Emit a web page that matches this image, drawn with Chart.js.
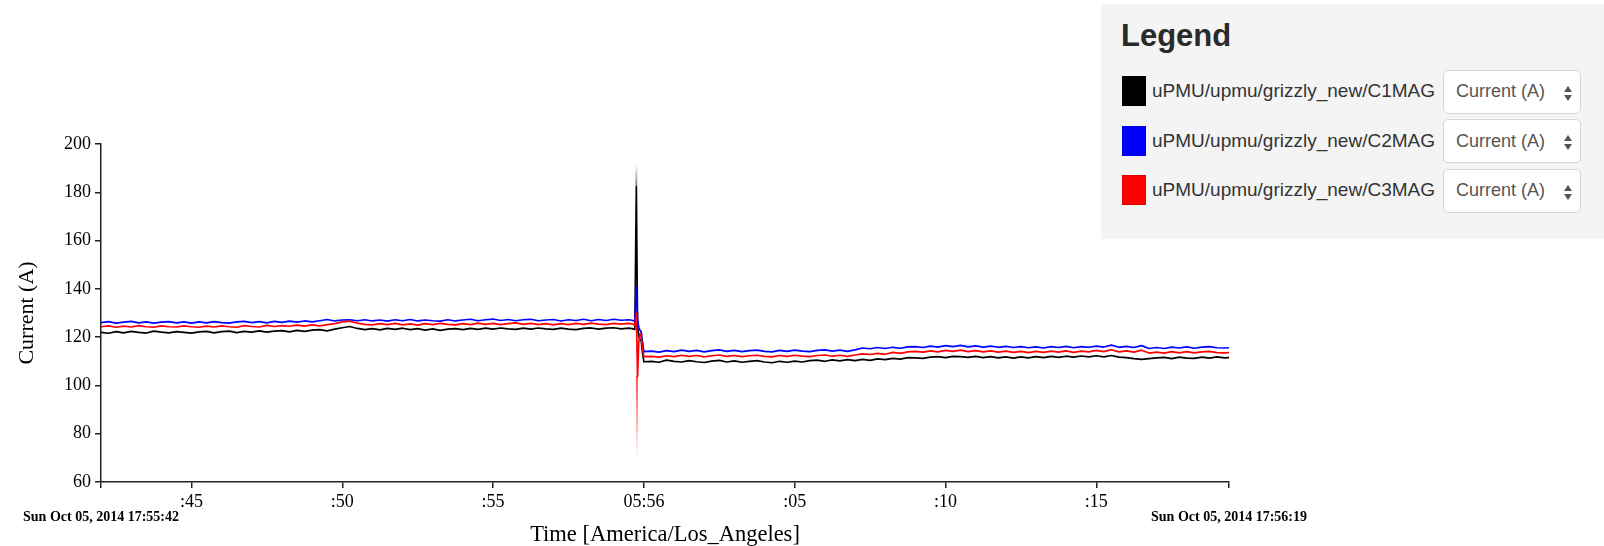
<!DOCTYPE html>
<html><head><meta charset="utf-8">
<script src="https://cdn.jsdelivr.net/npm/chart.js@4.4.1/dist/chart.umd.min.js"></script>
<style>
html,body{margin:0;padding:0;background:#fff;}
#wrap{position:relative;width:1604px;height:546px;overflow:hidden;}
#chart{position:absolute;left:0;top:0;}
#legend{position:absolute;left:1101px;top:4px;width:503px;height:235px;background:#f4f4f4;font-family:'Liberation Sans',Arial,sans-serif;color:#333;}
#legend .title{position:absolute;left:20px;top:16px;font-size:31px;font-weight:bold;line-height:31px;white-space:nowrap;color:#2a2a2a;}
.row{position:absolute;left:21px;height:30px;display:flex;align-items:center;}
.sw{width:24px;height:30px;box-sizing:border-box;border:1px solid rgba(0,0,0,0.12);}
.lbl{margin-left:6px;font-size:19px;white-space:nowrap;color:#333;}
.sel{position:absolute;left:342px;width:138px;height:44px;box-sizing:border-box;background:#fff;border:1px solid #d4d4d4;border-radius:5px;font-size:18px;color:#555;display:flex;align-items:center;padding-left:12px;white-space:nowrap;}
.up{position:absolute;left:120px;top:15px;width:0;height:0;border-left:4.5px solid transparent;border-right:4.5px solid transparent;border-bottom:6px solid #555;}
.dn{position:absolute;left:120px;top:24px;width:0;height:0;border-left:4.5px solid transparent;border-right:4.5px solid transparent;border-top:6px solid #555;}
</style>
</head><body>
<div id="wrap">
<canvas id="chart" width="1604" height="546"></canvas>
<div id="legend"><div class="title">Legend</div></div>
</div>
<script>
// ---- data ----
const seriesNames = ['uPMU/upmu/grizzly_new/C1MAG','uPMU/upmu/grizzly_new/C2MAG','uPMU/upmu/grizzly_new/C3MAG'];
const seriesColors = ['#000000','#0000ff','#ff0000'];
const unitLabel = 'Current (A)';
const yTitle = 'Current (A)';
const xTitle = 'Time [America/Los_Angeles]';
const rangeLabels = ['Sun Oct 05, 2014 17:55:42','Sun Oct 05, 2014 17:56:19'];
const xMin = 42, xMax = 79.4;           // seconds after 17:55:00
const xTickValues = [42, 45, 50, 55, 60, 65, 70, 75, 79.4];
const xTickLabels = ['', ':45', ':50', ':55', '05:56', ':05', ':10', ':15', ''];
const yMin = 60, yMax = 200, yStep = 20;

// sample times (seconds after 17:55:00)
const times = [
42,42.25,42.5,42.75,43,43.25,43.5,43.75,44,44.25,44.5,44.75,
45,45.25,45.5,45.75,46,46.25,46.5,46.75,47,47.25,47.5,47.75,
48,48.25,48.5,48.75,49,49.25,49.5,49.75,50,50.25,50.5,50.75,
51,51.25,51.5,51.75,52,52.25,52.5,52.75,53,53.25,53.5,53.75,
54,54.25,54.5,54.75,55,55.25,55.5,55.75,56,56.25,56.5,56.75,
57,57.25,57.5,57.75,58,58.25,58.5,58.75,59,59.25,59.5,
59.6,59.7,59.75,59.79,59.83,59.87,59.91,59.95,60,
60.25,60.5,60.75,61,61.25,61.5,61.75,62,62.25,62.5,62.75,63,
63.25,63.5,63.75,64,64.25,64.5,64.75,65,65.25,65.5,65.75,66,
66.25,66.5,66.75,67,67.25,67.5,67.75,68,68.25,68.5,68.75,69,
69.25,69.5,69.75,70,70.25,70.5,70.75,71,71.25,71.5,71.75,72,
72.25,72.5,72.75,73,73.25,73.5,73.75,74,74.25,74.5,74.75,75,
75.25,75.5,75.75,76,76.25,76.5,76.75,77,77.25,77.5,77.75,78,
78.25,78.5,78.75,79,79.25,79.4
];

const c1MAG = [
122.0,121.6,122.3,121.8,122.4,122.0,121.7,122.5,122.1,121.8,122.3,122.0,
121.7,122.2,122.4,121.8,122.3,122.5,121.9,122.4,122.1,122.6,122.1,122.5,
122.7,122.2,122.8,122.4,122.9,123.1,122.6,123.3,123.9,124.4,123.6,123.1,
123.5,123.0,123.6,123.2,123.7,123.1,123.5,122.9,123.4,122.8,123.3,123.5,
123.1,123.6,123.2,123.7,123.3,123.8,123.4,123.2,123.7,123.3,123.8,123.4,
123.2,123.7,123.3,123.1,123.6,123.8,123.3,123.7,123.9,123.4,123.7,
123.5,123.2,182.3,124.0,120.5,119.0,118.6,114.0,109.8,
110.0,109.6,110.5,110.0,109.7,110.3,109.8,109.5,110.1,110.4,109.7,110.2,
109.6,110.0,110.3,109.7,109.4,110.0,109.6,110.1,109.7,110.3,110.5,110.0,
110.6,110.2,110.7,110.3,110.8,110.4,111.0,110.7,111.2,110.9,111.5,111.4,
111.2,111.7,111.9,111.5,112.0,111.9,111.6,112.0,111.5,111.9,111.4,111.8,
111.3,111.8,111.4,111.9,111.5,112.0,111.6,112.1,111.7,112.2,111.8,112.3,
111.8,112.4,111.7,111.5,111.1,110.8,111.1,111.4,111.6,111.1,111.7,111.3,
111.2,111.7,111.3,111.8,111.4,111.5
];
const c2MAG = [
126.0,126.4,125.8,126.2,126.5,125.9,126.3,125.8,126.2,126.4,125.9,126.3,
125.8,126.3,125.9,126.4,126.0,125.8,126.3,126.5,126.0,126.4,125.9,126.5,
126.1,126.6,126.2,126.7,126.3,126.8,127.3,126.7,127.1,127.2,126.8,127.2,
126.7,127.1,126.6,127.2,126.8,127.3,126.7,127.1,126.8,126.6,127.2,126.7,
127.1,127.4,126.8,127.2,127.5,126.9,127.3,126.8,127.2,127.4,126.8,127.1,
127.3,126.7,127.2,126.9,127.4,126.8,127.3,126.9,127.4,127.0,127.2,
127.0,126.6,140.9,127.5,124.0,122.8,122.3,118.5,114.0,
114.2,113.8,114.4,114.0,114.6,114.1,114.5,113.9,114.4,114.7,114.1,114.5,
114.0,114.4,114.6,114.1,113.9,114.5,114.1,114.6,114.2,114.0,114.5,114.7,
114.2,114.6,114.1,114.7,115.5,115.2,115.7,115.3,115.8,115.4,116.0,116.1,
115.7,116.3,115.9,116.5,116.1,116.6,116.0,116.4,115.9,116.3,115.8,116.2,
115.7,116.1,115.6,116.0,115.5,116.1,115.7,116.2,115.6,116.1,115.8,116.3,
115.9,116.7,115.8,116.2,115.7,116.5,115.3,115.7,115.3,115.9,115.5,116.0,
115.4,115.9,116.1,115.6,115.5,115.6
];
const c3MAG = [
124.3,124.7,124.1,124.6,124.2,124.8,124.3,124.1,124.7,124.3,124.2,124.7,
124.3,124.1,124.6,124.2,124.7,124.3,124.1,124.8,124.4,124.2,124.9,124.4,
124.8,124.5,125.0,124.6,125.1,124.7,125.2,125.6,126.3,126.6,125.8,125.3,
125.1,125.6,125.2,125.7,125.1,125.5,125.0,125.6,125.2,125.7,125.3,125.1,
125.6,125.2,125.8,125.3,125.7,125.2,125.6,125.9,125.3,125.7,125.2,125.6,
125.1,125.6,125.2,125.7,125.3,125.8,125.4,125.2,125.7,125.4,125.7,
125.5,125.0,130.0,103.6,118.0,121.5,120.8,116.0,111.9,
112.0,111.7,112.3,111.9,112.5,112.0,112.4,111.8,112.3,112.6,112.0,112.4,
111.9,112.3,112.5,112.0,111.8,112.4,112.0,112.5,112.1,111.9,112.4,112.6,
112.1,112.5,112.0,112.6,113.1,112.8,113.3,112.9,113.7,113.3,113.9,114.1,
113.8,114.3,113.9,114.5,114.1,114.6,114.0,114.4,113.9,114.3,113.8,114.2,
113.7,114.1,113.6,114.1,113.7,114.2,113.8,114.3,113.7,114.2,113.9,114.5,
114.0,114.8,113.9,114.3,113.8,114.6,113.4,113.8,113.4,114.0,113.5,114.0,
113.5,113.9,114.1,113.6,113.5,113.6
];
// min/max envelope reached during the transient
const c1EnvTimes = [59.75, 59.75], c1EnvValues = [182.3, 191.3];
const c3EnvTimes = [59.77, 59.77], c3EnvValues = [103.6, 71.2];

// ---- legend ----
const legend = document.getElementById('legend');
seriesNames.forEach((name, i) => {
  const row = document.createElement('div');
  row.className = 'row';
  row.style.top = (72 + i * 49.5) + 'px';
  row.innerHTML = '<div class="sw" style="background:' + seriesColors[i] + '"></div><div class="lbl"></div>';
  row.querySelector('.lbl').textContent = name;
  legend.appendChild(row);
  const sel = document.createElement('div');
  sel.className = 'sel';
  sel.style.top = (65.5 + i * 49.5) + 'px';
  sel.textContent = unitLabel;
  const up = document.createElement('div'); up.className = 'up';
  const dn = document.createElement('div'); dn.className = 'dn';
  sel.appendChild(up); sel.appendChild(dn);
  legend.appendChild(sel);
});

// ---- chart ----
const pts = (ts, vs) => ts.map((t, i) => ({x: t, y: vs[i]}));
function fadeColor(rgb, fromV, toV, a0) {
  return (c) => {
    const ch = c.chart, y = ch.scales && ch.scales.y;
    if (!y || !ch.chartArea) return 'rgba(' + rgb + ',' + a0 + ')';
    const p0 = y.getPixelForValue(fromV), p1 = y.getPixelForValue(toV);
    if (!isFinite(p0) || !isFinite(p1) || p0 === p1) return 'rgba(' + rgb + ',' + a0 + ')';
    const g = ch.ctx.createLinearGradient(0, p0, 0, p1);
    g.addColorStop(0, 'rgba(' + rgb + ',' + a0 + ')');
    g.addColorStop(1, 'rgba(' + rgb + ',0.02)');
    return g;
  };
}
const serif = 'Liberation Serif';
const rangeLabelPlugin = {
  id: 'rangeLabels',
  afterDraw(chart) {
    const {ctx, scales: {x}} = chart;
    ctx.save();
    ctx.font = 'bold 14px "' + serif + '"';
    ctx.fillStyle = '#000';
    ctx.textAlign = 'center';
    ctx.textBaseline = 'middle';
    ctx.fillText(rangeLabels[0], x.getPixelForValue(xMin), 517);
    ctx.fillText(rangeLabels[1], x.getPixelForValue(xMax), 517);
    ctx.restore();
  }
};

new Chart(document.getElementById('chart'), {
  type: 'line',
  data: {
    datasets: [
      {label: 'C3 range', data: pts(c3EnvTimes, c3EnvValues), borderColor: fadeColor('255,0,0', 103.6, 71.2, 0.7), borderWidth: 2, order: 4},
      {label: 'C1 range', data: pts(c1EnvTimes, c1EnvValues), borderColor: fadeColor('0,0,0', 182.3, 191.3, 0.5), borderWidth: 2, order: 5},
      {label: seriesNames[2], data: pts(times, c3MAG), borderColor: seriesColors[2], order: 0},
      {label: seriesNames[1], data: pts(times, c2MAG), borderColor: seriesColors[1], order: 1},
      {label: seriesNames[0], data: pts(times, c1MAG), borderColor: seriesColors[0], order: 2}
    ]
  },
  options: {
    responsive: false,
    animation: false,
    devicePixelRatio: 1,
    layout: {padding: {top: 144, right: 375, bottom: 0, left: 0}},
    plugins: {legend: {display: false}, tooltip: {enabled: false}},
    elements: {point: {radius: 0}, line: {borderWidth: 1.7, tension: 0, fill: false, borderJoinStyle: 'round'}},
    scales: {
      x: {
        type: 'linear', min: xMin, max: xMax,
        afterBuildTicks: (s) => { s.ticks = xTickValues.map(v => ({value: v})); },
        afterFit: (s) => { s.height = 64; },
        ticks: {autoSkip: false, maxRotation: 0, padding: 3, color: '#000',
          font: {family: serif, size: 18, lineHeight: 1.2},
          callback: (v, i) => xTickLabels[i]},
        grid: {drawOnChartArea: false, drawTicks: true, tickLength: 6, color: '#222', lineWidth: 1.5},
        border: {display: true, color: '#222', width: 1.5},
        title: {display: true, text: xTitle, color: '#000', font: {family: serif, size: 22.5, lineHeight: 1}, padding: {top: 0, bottom: 0}}
      },
      y: {
        min: yMin, max: yMax,
        afterFit: (s) => { s.width = 101; },
        ticks: {stepSize: yStep, padding: 4, color: '#000', font: {family: serif, size: 18}},
        grid: {drawOnChartArea: false, drawTicks: true, tickLength: 6, color: '#222', lineWidth: 1.5},
        border: {display: true, color: '#222', width: 1.5},
        title: {display: true, text: yTitle, color: '#000', font: {family: serif, size: 22, lineHeight: 1}, padding: {top: 16, bottom: 0}}
      }
    }
  },
  plugins: [rangeLabelPlugin]
});
</script>
</body></html>
